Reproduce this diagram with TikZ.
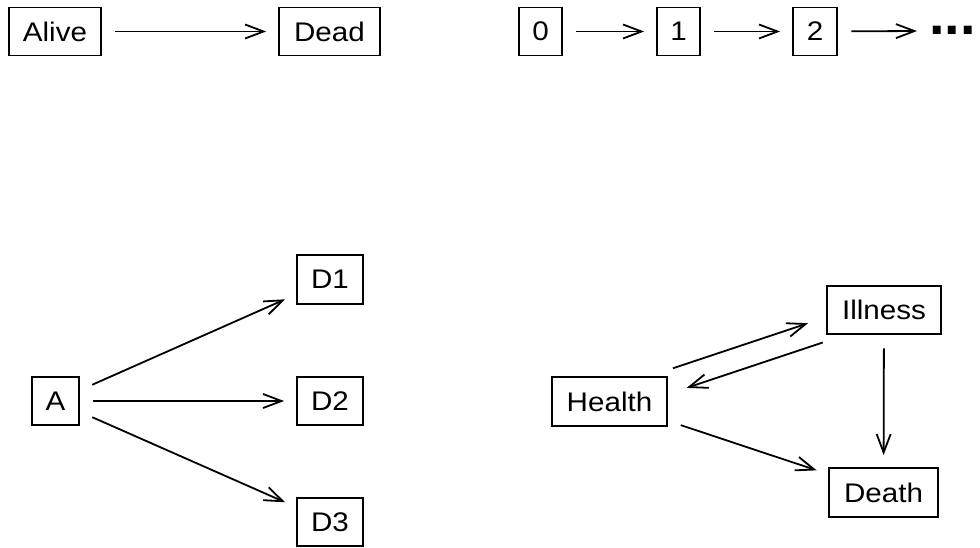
\documentclass[tikz,border=0pt]{standalone}
\usepackage{fontspec}
\setmainfont{Liberation Sans}[FakeStretch=1.1]
\newfontfamily\dotfont{Liberation Sans}
\usetikzlibrary{arrows.meta,calc}
\begin{document}
\begin{tikzpicture}[x=1bp,y=-1bp,
  box/.style={draw, line width=1.8bp, minimum height=48bp, inner sep=0pt,
    font=\fontsize{27}{27}\selectfont},
  arr/.style={-{Straight Barb[length=18.5bp,width=14bp,line width=1.8bp]}, line width=1.8bp,
    shorten <=13.5bp, shorten >=12bp},
  dotsty/.style={inner sep=0pt, font=\dotfont\fontsize{56}{56}\selectfont\bfseries}]
\useasboundingbox (0,0) rectangle (980,548);
% top row
\node[box, minimum width=92bp] (alive) at (55,31.5) {Alive};
\node[box, minimum width=101bp] (dead) at (329.5,31.5) {Dead};
\node[box, minimum width=43bp] (n0) at (540.5,31.5) {0};
\node[box, minimum width=43bp] (n1) at (678.5,31.5) {1};
\node[box, minimum width=44bp] (n2) at (815,31.5) {2};
\node[dotsty, anchor=base west] (dots) at (929,35) {...};
\draw[arr] (alive) -- (dead);
\draw[arr] (n0) -- (n1);
\draw[arr] (n1) -- (n2);
\draw[arr] (n2) -- (dots);
% competing risks
\node[box, minimum width=47bp] (a) at (55.5,401) {A};
\node[box, minimum width=66bp, minimum height=49bp] (d1) at (330,279.5) {D1};
\node[box, minimum width=66bp] (d2) at (330,401) {D2};
\node[box, minimum width=66bp] (d3) at (330,522) {D3};
\draw[arr] (a) -- (d1);
\draw[arr] (a) -- (d2);
\draw[arr] (a) -- (d3);
% illness-death
\node[box, minimum width=115bp, minimum height=49bp] (h) at (609.5,401.5) {Health};
\node[box, minimum width=114bp] (ill) at (884,310) {Illness};
\node[box, minimum width=109bp, minimum height=49bp] (death) at (883.5,492.5) {Death};
\draw[arr, shorten <=70.6bp, shorten >=76.3bp] ($(h)+(-3.6,-10.9)$) -- ($(ill)+(-3.6,-10.9)$);
\draw[arr, shorten <=68.3bp, shorten >=77.6bp] ($(ill)+(3.6,10.9)$) -- ($(h)+(3.6,10.9)$);
\draw[arr] (ill) -- (death);
\draw[arr] (h) -- (death);
\end{tikzpicture}
\end{document}
